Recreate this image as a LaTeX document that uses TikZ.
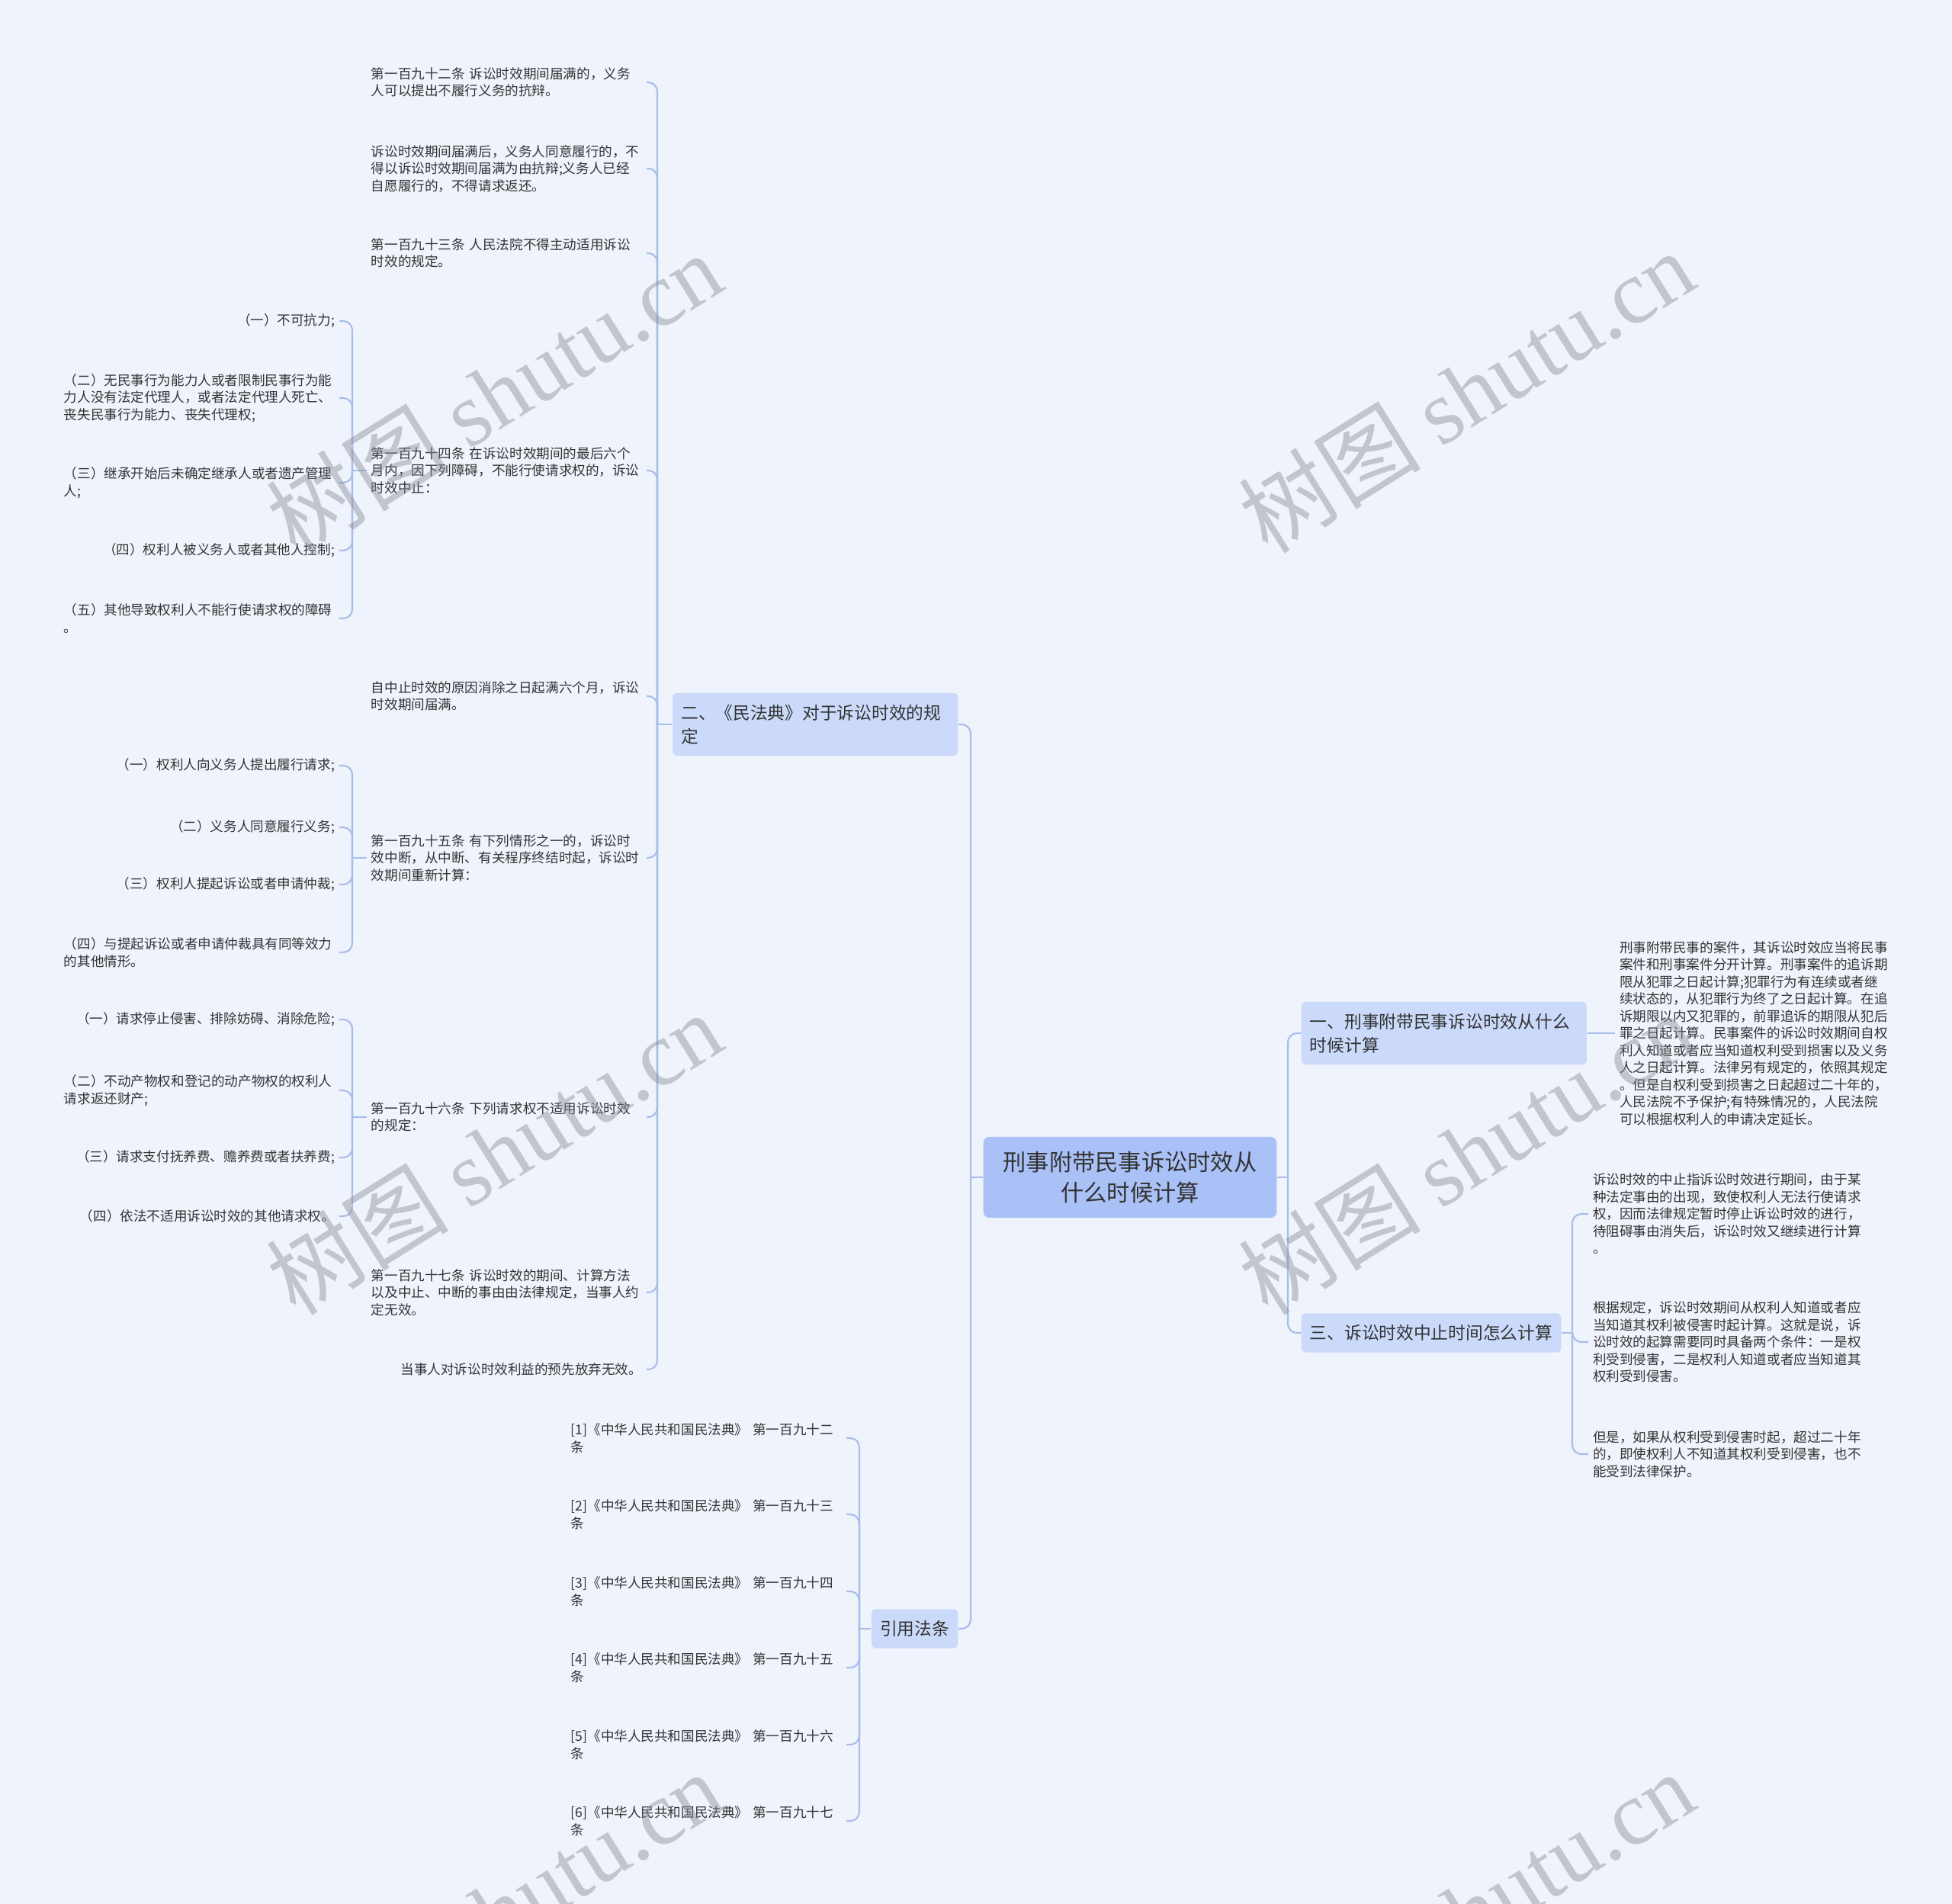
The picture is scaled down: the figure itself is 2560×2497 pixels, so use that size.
\documentclass[tikz,border=0pt]{standalone}
\usepackage{fontspec}
\setmainfont{Noto Sans CJK SC}
\newfontfamily\wmlatin{Liberation Serif}
\usepackage{tikz}
\usetikzlibrary{backgrounds}
\definecolor{bgpale}{HTML}{EFF3FB}
\definecolor{rootblue}{HTML}{A9C1F6}
\definecolor{branchblue}{HTML}{CBDAFA}
\definecolor{linkblue}{HTML}{A7BDEA}
\definecolor{inkgray}{HTML}{333333}
\definecolor{markgray}{HTML}{8A8F99}

\begin{document}
\begin{tikzpicture}[
    x=0.01cm, y=-0.01cm,
    every node/.style={text=inkgray},
    rootbox/.style={fill=rootblue, rounded corners=2.3pt, text width=95pt, align=center,
                    inner xsep=7.2pt, inner ysep=5.6pt, font=\fontsize{8.6}{11.1}\selectfont},
    branchbox/.style={fill=branchblue, rounded corners=1.7pt, inner xsep=3.2pt, inner ysep=4.3pt,
                      font=\fontsize{6.46}{8.8}\selectfont},
    leafl/.style={anchor=east, text width=101pt, align=left, inner xsep=1.5pt, inner ysep=0pt,
                  font=\fontsize{5}{6.4}\selectfont},
    leafr/.style={leafl, align=right},
    leafw/.style={leafl, anchor=west},
    link/.style={draw=linkblue, line width=0.6pt, rounded corners=3.4pt},
    wmark/.style={text=markgray, text opacity=0.45, rotate=32, font=\fontsize{34}{34}\selectfont},
]

\useasboundingbox (0,0) rectangle (2560,2497);
\begin{scope}[on background layer]
  \fill[bgpale] (0,0) rectangle (2560,2497);
\end{scope}

% Root
\node[rootbox] (root) at (1482,1544) {刑事附带民事诉讼时效从\\什么时候计算};

% Main branches
\node[branchbox, anchor=east, text width=100pt, align=left] (b2) at (1257,950)
  {二、《民法典》对于诉讼时效的规\\定};
\node[branchbox, anchor=east] (bref) at (1257,2136) {引用法条};
\node[branchbox, anchor=west, text width=100pt, align=left] (b1) at (1706,1355)
  {一、刑事附带民事诉讼时效从什么\\时候计算};
\node[branchbox, anchor=west] (b3) at (1706,1748) {三、诉讼时效中止时间怎么计算};

\coordinate (jl) at (1273,1544);
\coordinate (jr) at (1689,1544);
\draw[link] (root.west) -- (jl);
\draw[link] (root.east) -- (jr);
\draw[link] (jl) |- (b2.east);
\draw[link] (jl) |- (bref.east);
\draw[link] (jr) |- (b1.west);
\draw[link] (jr) |- (b3.west);

% Civil code articles
\node[leafl] (c1) at (848,108) {第一百九十二条 诉讼时效期间届满的，义务\\人可以提出不履行义务的抗辩。};
\node[leafl] (c2) at (848,221) {诉讼时效期间届满后，义务人同意履行的，不\\得以诉讼时效期间届满为由抗辩;义务人已经\\自愿履行的，不得请求返还。};
\node[leafl] (c3) at (848,332) {第一百九十三条 人民法院不得主动适用诉讼\\时效的规定。};
\node[leafl] (c4) at (848,617) {第一百九十四条 在诉讼时效期间的最后六个\\月内，因下列障碍，不能行使请求权的，诉讼\\时效中止：};
\node[leafl] (c5) at (848,913) {自中止时效的原因消除之日起满六个月，诉讼\\时效期间届满。};
\node[leafl] (c6) at (848,1125) {第一百九十五条 有下列情形之一的，诉讼时\\效中断，从中断、有关程序终结时起，诉讼时\\效期间重新计算：};
\node[leafl] (c7) at (848,1465) {第一百九十六条 下列请求权不适用诉讼时效\\的规定：};
\node[leafl] (c8) at (848,1695) {第一百九十七条 诉讼时效的期间、计算方法\\以及中止、中断的事由由法律规定，当事人约\\定无效。};
\node[leafr] (c9) at (848,1796) {当事人对诉讼时效利益的预先放弃无效。};

\coordinate (j2) at (862,950);
\draw[link] (b2.west) -- (j2);
\foreach \n in {1,...,9}
  \draw[link] (j2) |- (c\n.east);

% Article 194 items
\node[leafr] (s1) at (445,421) {（一）不可抗力;};
\node[leafl] (s2) at (445,522) {（二）无民事行为能力人或者限制民事行为能\\力人没有法定代理人，或者法定代理人死亡、\\丧失民事行为能力、丧失代理权;};
\node[leafl] (s3) at (445,633) {（三）继承开始后未确定继承人或者遗产管理\\人;};
\node[leafr] (s4) at (445,722) {（四）权利人被义务人或者其他人控制;};
\node[leafl] (s5) at (445,811) {（五）其他导致权利人不能行使请求权的障碍\\。};

\coordinate (j4) at (462,617);
\draw[link] (c4.west) -- (j4);
\foreach \n in {1,...,5}
  \draw[link] (j4) |- (s\n.east);

% Article 195 items
\node[leafr] (t1) at (445,1004) {（一）权利人向义务人提出履行请求;};
\node[leafr] (t2) at (445,1085) {（二）义务人同意履行义务;};
\node[leafr] (t3) at (445,1160) {（三）权利人提起诉讼或者申请仲裁;};
\node[leafl] (t4) at (445,1249) {（四）与提起诉讼或者申请仲裁具有同等效力\\的其他情形。};

\coordinate (j6) at (462,1125);
\draw[link] (c6.west) -- (j6);
\foreach \n in {1,...,4}
  \draw[link] (j6) |- (t\n.east);

% Article 196 items
\node[leafr] (e1) at (445,1337) {（一）请求停止侵害、排除妨碍、消除危险;};
\node[leafl] (e2) at (445,1430) {（二）不动产物权和登记的动产物权的权利人\\请求返还财产;};
\node[leafr] (e3) at (445,1518) {（三）请求支付抚养费、赡养费或者扶养费;};
\node[leafr] (e4) at (445,1595) {（四）依法不适用诉讼时效的其他请求权。};

\coordinate (j7) at (462,1465);
\draw[link] (c7.west) -- (j7);
\foreach \n in {1,...,4}
  \draw[link] (j7) |- (e\n.east);

% References
\foreach \n/\y/\num in {1/1886/二, 2/1986/三, 3/2087/四, 4/2187/五, 5/2288/六, 6/2388/七}
  \node[leafl] (f\n) at (1110,\y) {[\n]《中华人民共和国民法典》 第一百九十\num\\条};

\coordinate (jref) at (1127,2136);
\draw[link] (bref.west) -- (jref);
\foreach \n in {1,...,6}
  \draw[link] (jref) |- (f\n.east);

% Right side texts
\node[leafw] (r1) at (2118,1355) {刑事附带民事的案件，其诉讼时效应当将民事\\案件和刑事案件分开计算。刑事案件的追诉期\\限从犯罪之日起计算;犯罪行为有连续或者继\\续状态的，从犯罪行为终了之日起计算。在追\\诉期限以内又犯罪的，前罪追诉的期限从犯后\\罪之日起计算。民事案件的诉讼时效期间自权\\利人知道或者应当知道权利受到损害以及义务\\人之日起计算。法律另有规定的，依照其规定\\。但是自权利受到损害之日起超过二十年的，\\人民法院不予保护;有特殊情况的，人民法院\\可以根据权利人的申请决定延长。};
\draw[link] (b1.east) -- (r1.west);

\node[leafw] (q1) at (2083,1592) {诉讼时效的中止指诉讼时效进行期间，由于某\\种法定事由的出现，致使权利人无法行使请求\\权，因而法律规定暂时停止诉讼时效的进行，\\待阻碍事由消失后，诉讼时效又继续进行计算\\。};
\node[leafw] (q2) at (2083,1760) {根据规定，诉讼时效期间从权利人知道或者应\\当知道其权利被侵害时起计算。这就是说，诉\\讼时效的起算需要同时具备两个条件：一是权\\利受到侵害，二是权利人知道或者应当知道其\\权利受到侵害。};
\node[leafw] (q3) at (2083,1907) {但是，如果从权利受到侵害时起，超过二十年\\的，即使权利人不知道其权利受到侵害，也不\\能受到法律保护。};

\coordinate (j3) at (2062,1748);
\draw[link] (b3.east) -- (j3);
\foreach \n in {1,...,3}
  \draw[link] (j3) |- (q\n.west);

% Watermarks
\foreach \wx/\wy [count=\i] in {648/516, 1923/513, 648/1512, 1923/1512, 648/2508, 1923/2508}
  \node[wmark] (wm\i) at (\wx,\wy) {树图 {\wmlatin shutu.cn}};

\end{tikzpicture}
\end{document}
